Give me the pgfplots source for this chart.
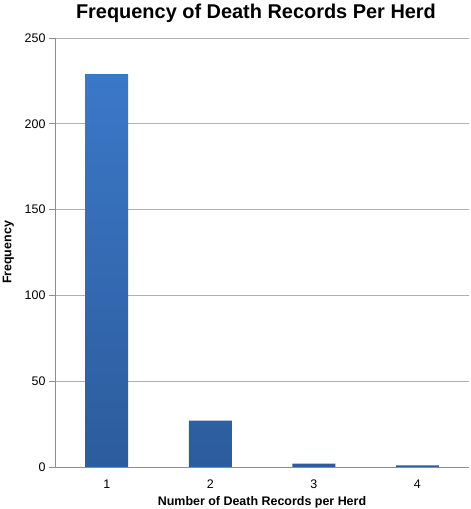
\documentclass[border=0pt]{standalone}
\usepackage{pgfplots}
\pgfplotsset{compat=1.18}
\usepackage{fontspec}
\setmainfont{Liberation Sans}
\definecolor{bartop}{HTML}{3B78C8}
\definecolor{barbot}{HTML}{2C5C9C}
\definecolor{gridc}{HTML}{B0B0B0}
\begin{document}
\begin{tikzpicture}
\useasboundingbox (-55bp,-42bp) rectangle (416bp,467bp);
\begin{axis}[
  at={(0,0)}, anchor=south west,
  scale only axis, width=414bp, height=429bp,
  xmin=0.5, xmax=4.5, ymin=0, ymax=250,
  ytick={0,50,...,250},
  xtick={1,2,3,4},
  xticklabels={1,2,3,4},
  extra x ticks={1.5,2.5,3.5,4.5},
  extra x tick labels={},
  extra x tick style={major tick length=5bp, tick style={gridc!80!black}, grid=none, tick align=outside},
  major x tick style={draw=none},
  ymajorgrids, grid style={gridc, line width=0.7pt},
  y tick style={gridc!80!black, line width=0.6pt},
  major tick length=6bp, tick align=outside,
  axis x line*=bottom, axis y line*=left,
  axis line style={gridc!80!black, line width=0.7pt},
  x axis line style={-}, y axis line style={-},
  ticklabel style={font=\fontsize{12.5}{14}\selectfont},
  xticklabel style={yshift=-3bp},
  /pgf/number format/assume math mode=true,
  xlabel={\bfseries Number of Death Records per Herd},
  ylabel={\bfseries Frequency},
  xlabel style={font=\fontsize{12.5}{14}\selectfont, yshift=10bp},
  ylabel style={font=\fontsize{12.5}{14}\selectfont, yshift=4bp},
  title={\bfseries Frequency of Death Records Per Herd},
  title style={font=\fontsize{20}{24}\selectfont, yshift=6bp, xshift=-6bp},
  ybar, bar width=43bp,
]
\addplot[draw=none, shade, top color=bartop, bottom color=barbot] coordinates {(1,229) (2,27) (3,2) (4,1)};
\end{axis}
\end{tikzpicture}
\end{document}
